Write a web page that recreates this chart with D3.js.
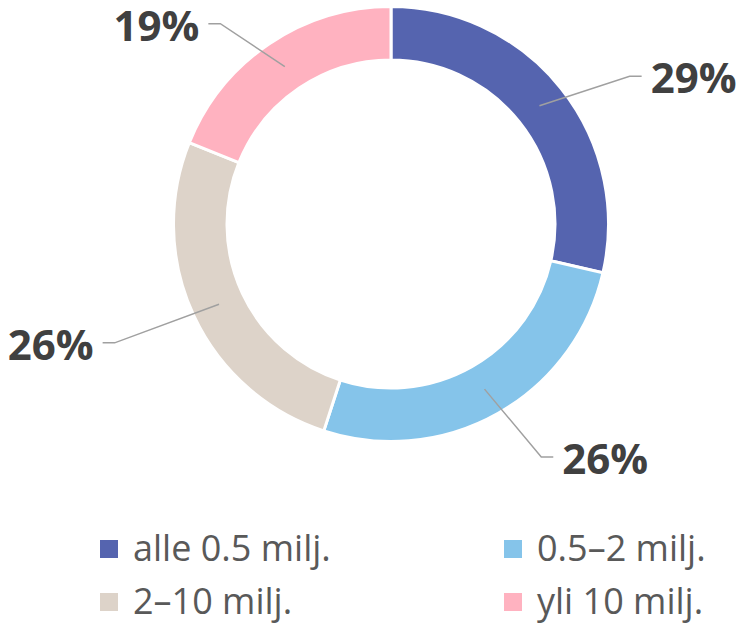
<!DOCTYPE html>
<html>
<head>
<meta charset="utf-8">
<script src="https://cdn.jsdelivr.net/npm/d3@7"></script>
<style>
  body { margin: 0; background: #fff; }
  text { font-family: "Open Sans", "Noto Sans", sans-serif; }
</style>
</head>
<body>
<div id="chart"></div>
<script>
// chart data
var categories = ["alle 0.5 milj.", "0.5–2 milj.", "2–10 milj.", "yli 10 milj."];
var shares = [28.6, 26.4, 26.1, 18.9];
var colors = ["#5564AF", "#85C4EA", "#DDD3C9", "#FFB2C0"];

// svg size
var svgWidth = 744;
var svgHeight = 627;

// donut geometry
var cx = 391;
var cy = 224;
var outerR = 217.5;
var innerR = 164;
// label ring (ellipse, shifted down a little)
var labelRx = 305;
var labelRy = 255;
var labelShift = 11;

var svg = d3.select("#chart")
  .append("svg")
  .attr("width", svgWidth)
  .attr("height", svgHeight);

var chartGroup = svg.append("g")
  .attr("transform", `translate(${cx}, ${cy})`);

var data = categories.map(function(c, i) {
  return { name: c, value: shares[i], color: colors[i] };
});

var pie = d3.pie()
  .sort(null)
  .value(d => d.value);

var arc = d3.arc()
  .innerRadius(innerR)
  .outerRadius(outerR);

var midArc = d3.arc()
  .innerRadius((innerR + outerR) / 2 - 1)
  .outerRadius((innerR + outerR) / 2 - 1);

var arcs = pie(data);

// slices
chartGroup.selectAll("path.slice")
  .data(arcs)
  .enter()
  .append("path")
  .attr("class", "slice")
  .attr("d", arc)
  .attr("fill", d => d.data.color)
  .attr("stroke", "#fff")
  .attr("stroke-width", 3);

// leader lines + labels
var fmt = d3.format(".0f");

arcs.forEach(function(d) {
  var a = (d.startAngle + d.endAngle) / 2;
  var side = Math.sin(a) >= 0 ? 1 : -1;
  var start = midArc.centroid(d);
  var elbow = [labelRx * Math.sin(a), labelShift - labelRy * Math.cos(a)];
  var end = [elbow[0] + side * 12, elbow[1]];

  chartGroup.append("path")
    .attr("d", d3.line()([start, elbow, end]))
    .attr("fill", "none")
    .attr("stroke", "#A0A0A0")
    .attr("stroke-width", 1.5);

  chartGroup.append("text")
    .attr("x", end[0] + side * 9)
    .attr("y", end[1] + 17)
    .attr("text-anchor", side > 0 ? "start" : "end")
    .attr("font-size", 42)
    .attr("font-weight", "bold")
    .attr("fill", "#404040")
    .text(fmt(d.data.value) + "%");
});

// legend
var legendX = d3.scaleOrdinal().domain([0, 1]).range([100, 504]);
var legendY = d3.scaleOrdinal().domain([0, 1]).range([540, 593]);

var legend = svg.selectAll(".legend")
  .data(data)
  .enter()
  .append("g")
  .attr("class", "legend")
  .attr("transform", (d, i) => `translate(${legendX(i % 2)}, ${legendY(Math.floor(i / 2))})`);

legend.append("rect")
  .attr("width", 18)
  .attr("height", 18)
  .attr("fill", d => d.color);

legend.append("text")
  .attr("x", 33)
  .attr("y", 21)
  .attr("font-size", 36)
  .attr("fill", "#595959")
  .text(d => d.name);
</script>
</body>
</html>
